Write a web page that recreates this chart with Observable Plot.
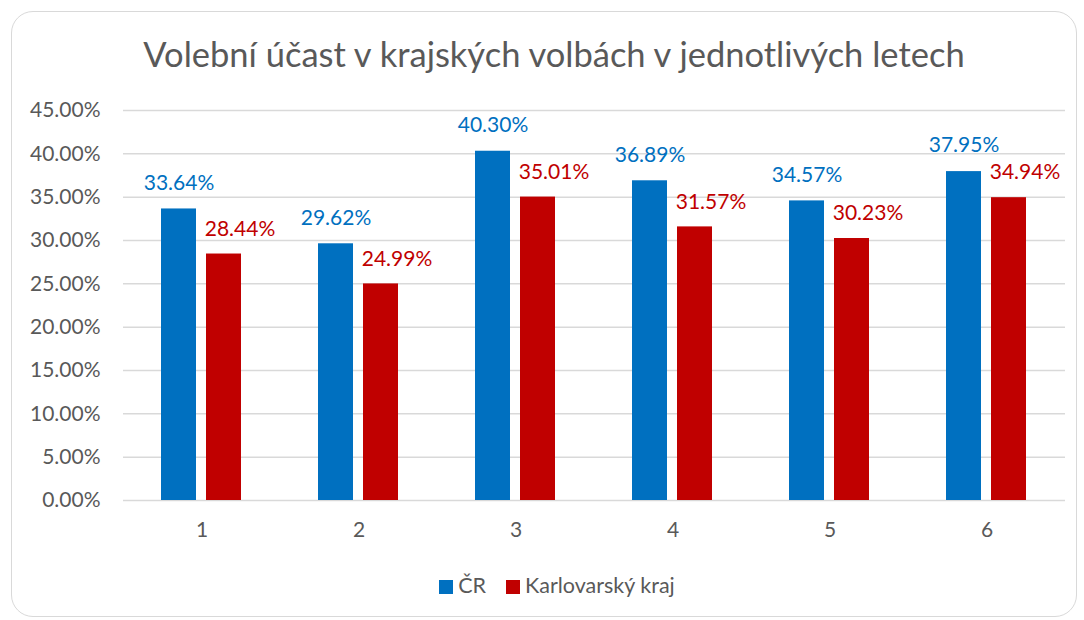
<!DOCTYPE html>
<html>
<head>
<meta charset="utf-8">
<script src="https://cdn.jsdelivr.net/npm/d3@7"></script>
<script src="https://cdn.jsdelivr.net/npm/@observablehq/plot@0.6"></script>
<style>
  html, body { margin: 0; padding: 0; background: #fff; }
  body { width: 1084px; height: 620px; position: relative; overflow: hidden; font-family: Lato, "Open Sans", sans-serif; }
  #frame { position: absolute; left: 11px; top: 11px; width: 1066px; height: 606px; border: 1.5px solid #D9D9D9; border-radius: 22px; box-sizing: border-box; }
  #title { position: absolute; left: 0; width: 1108px; top: 33px; text-align: center; font-size: 34.5px; color: #595959; white-space: nowrap; }
  #chart { position: absolute; left: 0; top: 90px; }
  #legend { position: absolute; left: 0; width: 1114px; top: 572px; text-align: center; font-size: 21.5px; color: #595959; white-space: nowrap; }
  #legend span.sw { display: inline-block; width: 14px; height: 14px; vertical-align: -1px; margin-right: 5px; }
  #legend span.item { margin: 0 10px; }
</style>
</head>
<body>
<div id="frame"></div>
<div id="title">Volební účast v krajských volbách v jednotlivých letech</div>
<div id="chart"></div>
<div id="legend"></div>
<script>
const categories = ["1", "2", "3", "4", "5", "6"];
const seriesNames = ["ČR", "Karlovarský kraj"];
const valuesCR = [33.64, 29.62, 40.30, 36.89, 34.57, 37.95];
const valuesKK = [28.44, 24.99, 35.01, 31.57, 30.23, 34.94];
const seriesColors = ["#0070C0", "#C00000"];
const yTicks = [0, 5, 10, 15, 20, 25, 30, 35, 40, 45];

const data = [];
categories.forEach((c, i) => {
  data.push({cat: c, series: seriesNames[0], value: valuesCR[i]});
  data.push({cat: c, series: seriesNames[1], value: valuesKK[i]});
});
const fmt = d => d.toFixed(2) + "%";

const plot = Plot.plot({
  width: 1084,
  height: 470,
  marginTop: 20,
  marginBottom: 60,
  marginLeft: 123,
  marginRight: 19,
  style: {fontFamily: "Lato, 'Open Sans', sans-serif", fontSize: "21px", color: "#595959", background: "transparent"},
  fx: {domain: categories, padding: 0, label: null, axis: "bottom", tickSize: 0, tickPadding: 22},
  x: {domain: seriesNames, paddingInner: 0.222, paddingOuter: 0.855, axis: null},
  y: {domain: [0, 45], ticks: yTicks, tickFormat: fmt, label: null, tickSize: 0, tickPadding: 23, grid: false},
  color: {domain: seriesNames, range: seriesColors},
  marks: [
    Plot.ruleY(yTicks, {stroke: "#D9D9D9", strokeWidth: 1.5}),
    Plot.barY(data, {fx: "cat", x: "series", y: "value", fill: "series"}),
    Plot.text(data.filter(d => d.series === seriesNames[0]), {fx: "cat", x: "series", y: "value", text: d => fmt(d.value), fill: seriesColors[0], dy: -26, fontSize: 21}),
    Plot.text(data.filter(d => d.series === seriesNames[1]), {fx: "cat", x: "series", y: "value", text: d => fmt(d.value), fill: seriesColors[1], dx: 16, dy: -25, fontSize: 21})
  ]
});
document.getElementById("chart").appendChild(plot);

const legend = document.getElementById("legend");
seriesNames.forEach((s, i) => {
  const item = document.createElement("span");
  item.className = "item";
  const sw = document.createElement("span");
  sw.className = "sw";
  sw.style.background = seriesColors[i];
  item.appendChild(sw);
  item.appendChild(document.createTextNode(s));
  legend.appendChild(item);
});
</script>
</body>
</html>
